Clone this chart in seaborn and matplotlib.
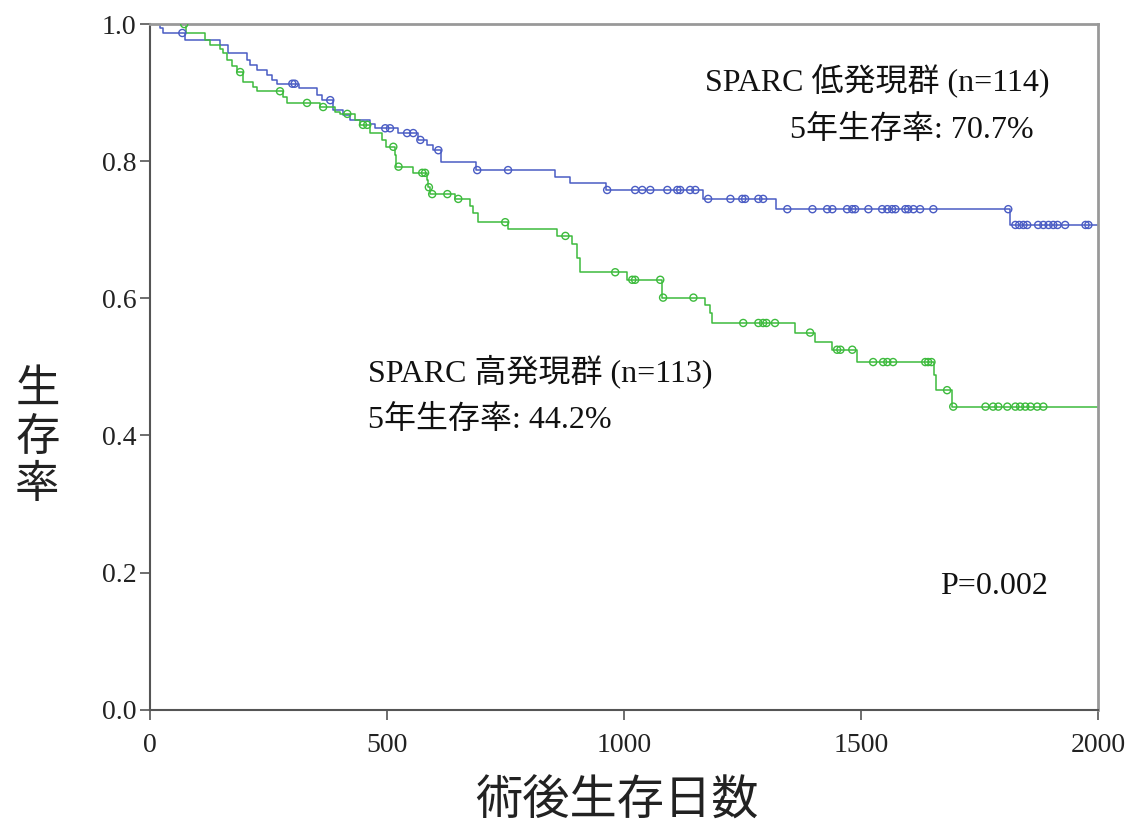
import numpy as np
import pandas as pd
import seaborn as sns
import matplotlib.pyplot as plt

sns.set_style("ticks")
plt.rcParams['font.family'] = ['Liberation Serif', 'Noto Sans CJK JP']

# SPARC low expression group (n=114): event times / survival after each step
low_t = [0, 21, 27, 74, 148, 165, 205, 211, 226, 247, 257, 268, 314, 352, 363,
         386, 407, 422, 464, 475, 523, 565, 584, 597, 614, 688, 854, 886, 962,
         1167, 1321, 1814]
low_s = [1.0, 0.994, 0.987, 0.977, 0.969, 0.958, 0.948, 0.940, 0.933, 0.926,
         0.918, 0.913, 0.907, 0.897, 0.889, 0.875, 0.867, 0.860, 0.854, 0.848,
         0.841, 0.831, 0.824, 0.816, 0.799, 0.787, 0.777, 0.768, 0.758, 0.745,
         0.730, 0.707]
low_cens = [68, 300, 305, 380, 496, 506, 542, 555, 570, 608, 690, 755, 964,
            1023, 1038, 1055, 1091, 1112, 1118, 1139, 1150, 1177, 1224, 1249,
            1255, 1283, 1293, 1344, 1397, 1428, 1439, 1470, 1481, 1487, 1515,
            1544, 1555, 1565, 1572, 1593, 1599, 1610, 1624, 1652, 1810, 1825,
            1833, 1842, 1850, 1873, 1884, 1895, 1905, 1914, 1930, 1973, 1979]

# SPARC high expression group (n=113)
high_t = [0, 76, 116, 127, 148, 154, 162, 173, 184, 196, 217, 226, 281, 289,
          359, 390, 401, 432, 443, 464, 489, 498, 517, 519, 555, 584, 586, 591,
          643, 675, 681, 692, 755, 859, 890, 901, 907, 1006, 1080, 1171, 1181,
          1186, 1361, 1403, 1439, 1492, 1654, 1658, 1692]
high_s = [1.0, 0.987, 0.977, 0.969, 0.964, 0.958, 0.948, 0.939, 0.930, 0.915,
          0.908, 0.902, 0.894, 0.885, 0.879, 0.872, 0.869, 0.860, 0.853, 0.841,
          0.831, 0.821, 0.809, 0.792, 0.783, 0.773, 0.762, 0.752, 0.745, 0.735,
          0.724, 0.711, 0.701, 0.691, 0.679, 0.659, 0.638, 0.627, 0.601, 0.590,
          0.579, 0.564, 0.550, 0.536, 0.525, 0.507, 0.488, 0.466, 0.442]
high_cens = [72, 190, 274, 331, 365, 416, 449, 458, 513, 524, 574, 580, 588,
             595, 627, 650, 749, 876, 981, 1017, 1023, 1076, 1082, 1146, 1251,
             1283, 1293, 1300, 1318, 1392, 1449, 1456, 1481, 1525, 1546, 1555,
             1567, 1635, 1641, 1648, 1681, 1694, 1762, 1778, 1789, 1808, 1825,
             1835, 1846, 1857, 1871, 1884]

groups = [
    ("low", low_t, low_s, low_cens, "#4a5cc4"),
    ("high", high_t, high_s, high_cens, "#3dbb3d"),
]

fig, ax = plt.subplots(figsize=(11.37, 8.30), dpi=100)
fig.subplots_adjust(left=0.132, right=0.966, bottom=0.145, top=0.971)

for name, t, s, cens, col in groups:
    t = np.array(t + [2000])
    s = np.array(s + [s[-1]])
    df = pd.DataFrame({"t": t, "s": s})
    sns.lineplot(data=df, x="t", y="s", drawstyle="steps-post", estimator=None,
                 color=col, linewidth=1.1, ax=ax)
    c = np.array(cens)
    cs = s[np.searchsorted(t, c, side="right") - 1]
    cdf = pd.DataFrame({"t": c, "s": cs})
    sns.scatterplot(data=cdf, x="t", y="s", marker="o", s=26, fc="none",
                    ec=col, linewidth=1.0, ax=ax, zorder=3)

ax.set_xlim(0, 2000)
ax.set_ylim(0, 1.0)
ax.set_xticks([0, 500, 1000, 1500, 2000])
ax.set_yticks(np.arange(0, 1.01, 0.2))
ax.set_yticklabels(["%.1f" % v for v in np.arange(0, 1.01, 0.2)])
ax.tick_params(labelsize=20, length=7, width=1.2, color="#555555",
               labelcolor="#222222", pad=3)
ax.tick_params(axis="x", pad=10)
ax.set_xlabel("")
ax.set_ylabel("")
for side in ["left", "bottom"]:
    ax.spines[side].set_color("#555555")
    ax.spines[side].set_linewidth(1.5)
for side in ["top", "right"]:
    ax.spines[side].set_color("#999999")
    ax.spines[side].set_linewidth(2)

txt = dict(fontsize=23, ha="left", va="center", color="#111111")
ax.text(1171, 0.918, "SPARC 低発現群 (n=114)", **txt)
ax.text(1350, 0.845, "5年生存率: 70.7%", **txt)
ax.text(460, 0.493, "SPARC 高発現群 (n=113)", **txt)
ax.text(460, 0.423, "5年生存率: 44.2%", **txt)
ax.text(1667, 0.179, "P=0.002", **txt)

fig.text(0.033, 0.474, "生\n存\n率", fontsize=32, ha="center", va="center",
         family=["Noto Sans CJK JP"], linespacing=1.05, color="#222222")
fig.text(0.543, 0.035, "術後生存日数", fontsize=34, ha="center", va="center",
         family=["Noto Sans CJK JP"], color="#222222")

plt.savefig("out.png")
